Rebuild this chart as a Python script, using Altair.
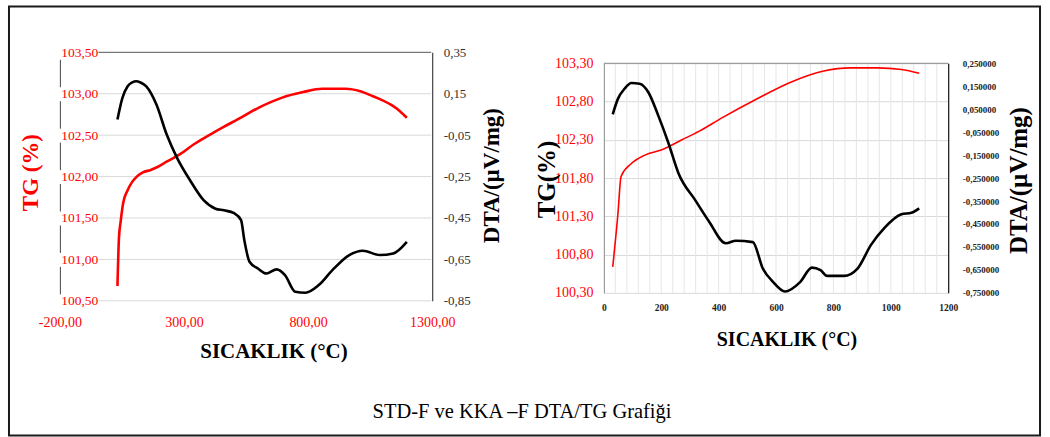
import altair as alt
import pandas as pd

SERIF = "'Liberation Serif', 'Times New Roman', serif"
RED = "#ff0000"

# ---------------- Left chart (STD-F) ----------------
L_TG_T = [32, 38, 45, 55, 72, 90, 107, 134, 166, 189, 230, 284, 340, 407, 460, 516,
          600, 693, 780, 857, 952, 1010, 1061, 1100, 1143, 1170, 1198]
L_TG = [100.68, 101.26, 101.46, 101.68, 101.83, 101.93, 101.99, 102.05, 102.08, 102.11,
        102.18, 102.27, 102.39, 102.51, 102.60, 102.69, 102.83, 102.95, 103.02, 103.06,
        103.06, 103.03, 102.97, 102.92, 102.85, 102.79, 102.71]

L_DTA_T = [32, 52, 73, 92, 107, 125, 148, 189, 230, 271, 325, 380, 427, 461, 502, 530,
           543, 564, 598, 632, 673, 707, 748, 789, 843, 898, 966, 1021, 1089, 1143, 1198]
L_DTA = [0.026, 0.13, 0.186, 0.205, 0.21, 0.204, 0.186, 0.098, -0.046, -0.157, -0.269,
         -0.365, -0.405, -0.413, -0.427, -0.46, -0.556, -0.661, -0.694, -0.718, -0.698,
         -0.726, -0.806, -0.811, -0.774, -0.702, -0.629, -0.608, -0.629, -0.621, -0.565]

L_X_TICKS = [-200, 300, 800, 1300]
L_TG_TICKS = [100.5, 101.0, 101.5, 102.0, 102.5, 103.0, 103.5]
L_DTA_TICKS = [0.35, 0.15, -0.05, -0.25, -0.45, -0.65, -0.85]

# ---------------- Right chart (KKA-F) ----------------
R_TG_T = [31, 49, 60, 96, 143, 202, 272, 331, 413, 531, 649, 766, 860, 954, 1037, 1099]
R_TG = [100.64, 101.33, 101.82, 101.99, 102.10, 102.17, 102.30, 102.41, 102.59, 102.83,
        103.05, 103.20, 103.24, 103.24, 103.22, 103.17]

R_DTA_T = [31, 49, 72, 96, 125, 155, 190, 225, 260, 319, 366, 425, 460, 519, 554, 590,
           631, 684, 725, 755, 778, 837, 884, 931, 978, 1037, 1072, 1099]
R_DTA = [0.028, 0.095, 0.139, 0.164, 0.161, 0.124, 0.021, -0.097, -0.229, -0.347, -0.438,
         -0.534, -0.523, -0.529, -0.644, -0.703, -0.744, -0.703, -0.640, -0.651, -0.676,
         -0.676, -0.644, -0.541, -0.467, -0.408, -0.401, -0.382]

R_X_TICKS = [0, 200, 400, 600, 800, 1000, 1200]
R_GRID_X = [40, 80, 120, 160, 240, 280, 320, 360, 440, 480, 520, 560, 640, 680, 720, 760,
            840, 880, 920, 960, 1040, 1080, 1120, 1160, 200, 400, 600, 800, 1000]
R_TG_TICKS = [100.3, 100.8, 101.3, 101.8, 102.3, 102.8, 103.3]
R_DTA_TICKS = [0.25, 0.15, 0.05, -0.05, -0.15, -0.25, -0.35, -0.45, -0.55, -0.65, -0.75]

CAPTION = "STD-F ve KKA \u2013F DTA/TG Grafiği"


def fmt(d):
    return ("replace(replace(format(datum.value,'." + str(d) + "f'),'.',','),'\u2212','-')")


# ---------------- Left chart ----------------
LW, LH = 373, 249
lx_scale = alt.Scale(domain=[-200, 1300], nice=False, zero=False)
ltg_scale = alt.Scale(domain=[100.5, 103.5], nice=False, zero=False)
ldta_scale = alt.Scale(domain=[-0.85, 0.35], nice=False, zero=False)

lx_axis = alt.Axis(values=L_X_TICKS, labelExpr=fmt(2), labelColor=RED, labelFont=SERIF,
                   labelFontSize=14, labelPadding=15, labelFlush=False, labelOverlap=False,
                   domain=False, ticks=False, grid=False,
                   title="SICAKLIK (°C)", titleFont=SERIF, titleFontSize=21,
                   titleFontWeight="bold", titleColor="black", titleX=214, titleY=57,
                   titleAlign="center", titleBaseline="alphabetic")

ltg_axis = alt.Axis(orient="left", values=L_TG_TICKS, labelExpr=fmt(2), labelColor=RED,
                    labelFont=SERIF, labelFontSize=13.5, labelAlign="right",
                    labelBaseline="middle", labelPadding=-38, ticks=False, tickSize=0,
                    grid=False, domain=True, domainColor="#444", domainWidth=1,
                    domainDash=[27.5, 14], domainDashOffset=34.5, labelOverlap=False,
                    title="TG (%)", titleFont=SERIF, titleFontSize=23, titleFontWeight="bold",
                    titleColor=RED, titleAngle=270, titleX=-29, titleY=120,
                    titleAlign="center", titleBaseline="middle")

ldta_axis = alt.Axis(orient="right", values=L_DTA_TICKS, labelExpr=fmt(2), labelColor="#333",
                     labelFont=SERIF, labelFontSize=13, labelPadding=11, ticks=False,
                     grid=False, domain=True, domainColor="#444", domainWidth=1.2,
                     labelOverlap=False,
                     title="DTA/(µV/mg)", titleFont=SERIF, titleFontSize=23,
                     titleFontWeight="bold", titleColor="black", titleAngle=270,
                     titleX=59, titleY=123, titleAlign="center", titleBaseline="middle")

l_grid = alt.Chart(pd.DataFrame({"v": L_TG_TICKS})).mark_rule(strokeWidth=1).encode(
    y=alt.Y("v:Q", scale=ltg_scale, axis=None),
    x=alt.value(38.5), x2=alt.value(372),
    color=alt.condition("datum.v == 103.5", alt.value("#555555"), alt.value("#d9d9d9")),
)

l_tg = alt.Chart(pd.DataFrame({"t": L_TG_T, "v": L_TG})).mark_line(
    color=RED, strokeWidth=2.6, interpolate="monotone").encode(
    x=alt.X("t:Q", scale=lx_scale, axis=lx_axis),
    y=alt.Y("v:Q", scale=ltg_scale, axis=ltg_axis),
)

l_dta = alt.Chart(pd.DataFrame({"t": L_DTA_T, "v": L_DTA})).mark_line(
    color="black", strokeWidth=2.6, interpolate="monotone").encode(
    x=alt.X("t:Q", scale=lx_scale, axis=lx_axis),
    y=alt.Y("v:Q", scale=ldta_scale, axis=ldta_axis),
)

frame = alt.Chart(alt.Data(values=[{"a": 1}])).mark_rect(
    fillOpacity=0, stroke="#1a1a1a", strokeWidth=2).encode(
    x=alt.value(-51), x2=alt.value(982), y=alt.value(-46), y2=alt.value(384))

caption = alt.Chart(alt.Data(values=[{"c": CAPTION}])).mark_text(
    font=SERIF, fontSize=20.5, color="black", align="center", baseline="middle").encode(
    text="c:N", x=alt.value(463), y=alt.value(360))

left = alt.layer(l_grid, l_tg, l_dta, frame, caption).resolve_scale(
    y="independent").properties(width=LW, height=LH)

# ---------------- Right chart ----------------
RW, RH = 345, 241
rx_scale = alt.Scale(domain=[0, 1200], nice=False, zero=False)
rtg_scale = alt.Scale(domain=[100.3, 103.3], range=[241, 11], nice=False, zero=False)
rdta_scale = alt.Scale(domain=[-0.75, 0.25], range=[241, 11], nice=False, zero=False)

rx_axis = alt.Axis(values=R_X_TICKS, format="d", labelColor="#222", labelFont=SERIF,
                   labelFontSize=9.5, labelFontWeight="bold", labelPadding=10,
                   labelFlush=False, labelOverlap=False, domain=False, ticks=False,
                   grid=False,
                   title="SICAKLIK (°C)", titleFont=SERIF, titleFontSize=20,
                   titleFontWeight="bold", titleColor="black", titleX=183, titleY=53,
                   titleAlign="center", titleBaseline="alphabetic")

rtg_axis = alt.Axis(orient="left", values=R_TG_TICKS, labelExpr=fmt(2), labelColor=RED,
                    labelFont=SERIF, labelFontSize=14, labelPadding=11, ticks=False,
                    grid=True, gridColor="#d9d9d9", gridWidth=1,
                    domain=True, domainColor="#8a8a8a", labelOverlap=False,
                    title="TG(%)", titleFont=SERIF, titleFontSize=25, titleFontWeight="bold",
                    titleColor="black", titleAngle=270, titleX=-57, titleY=127,
                    titleAlign="center", titleBaseline="middle")

rdta_axis = alt.Axis(orient="right", values=R_DTA_TICKS, labelExpr=fmt(6), labelColor="#222",
                     labelFont=SERIF, labelFontSize=9, labelFontWeight="bold",
                     labelPadding=14, ticks=False, grid=False, domain=True,
                     domainColor="#111", domainWidth=1.2, labelOverlap=False,
                     title="DTA/(µV/mg)", titleFont=SERIF, titleFontSize=25,
                     titleFontWeight="bold", titleColor="black", titleAngle=270,
                     titleX=70, titleY=128, titleAlign="center", titleBaseline="middle")

r_vgrid = alt.Chart(pd.DataFrame({"t": R_GRID_X})).mark_rule(
    color="#e6e6e6", strokeWidth=1).encode(
    x=alt.X("t:Q", scale=rx_scale, axis=rx_axis),
    y=alt.value(11), y2=alt.value(241))

r_top = alt.Chart(alt.Data(values=[{"a": 1}])).mark_rule(
    color="#8a8a8a", strokeWidth=1).encode(
    x=alt.value(0), x2=alt.value(345), y=alt.value(11))

r_tg = alt.Chart(pd.DataFrame({"t": R_TG_T, "v": R_TG})).mark_line(
    color=RED, strokeWidth=1.6, interpolate="monotone").encode(
    x=alt.X("t:Q", scale=rx_scale, axis=rx_axis),
    y=alt.Y("v:Q", scale=rtg_scale, axis=rtg_axis),
)

r_dta = alt.Chart(pd.DataFrame({"t": R_DTA_T, "v": R_DTA})).mark_line(
    color="black", strokeWidth=2.6, interpolate="monotone").encode(
    x=alt.X("t:Q", scale=rx_scale, axis=rx_axis),
    y=alt.Y("v:Q", scale=rdta_scale, axis=rdta_axis),
)

right = alt.layer(r_vgrid, r_top, r_tg, r_dta).resolve_scale(
    y="independent").properties(width=RW, height=RH)

chart = alt.hconcat(left, right, spacing=172, bounds="flush").properties(
    padding={"left": 7, "top": 4, "right": 8, "bottom": 1},
    background="white",
).configure_view(stroke="transparent")

chart.save("out.html", embed_options={"renderer": "svg", "actions": False})
